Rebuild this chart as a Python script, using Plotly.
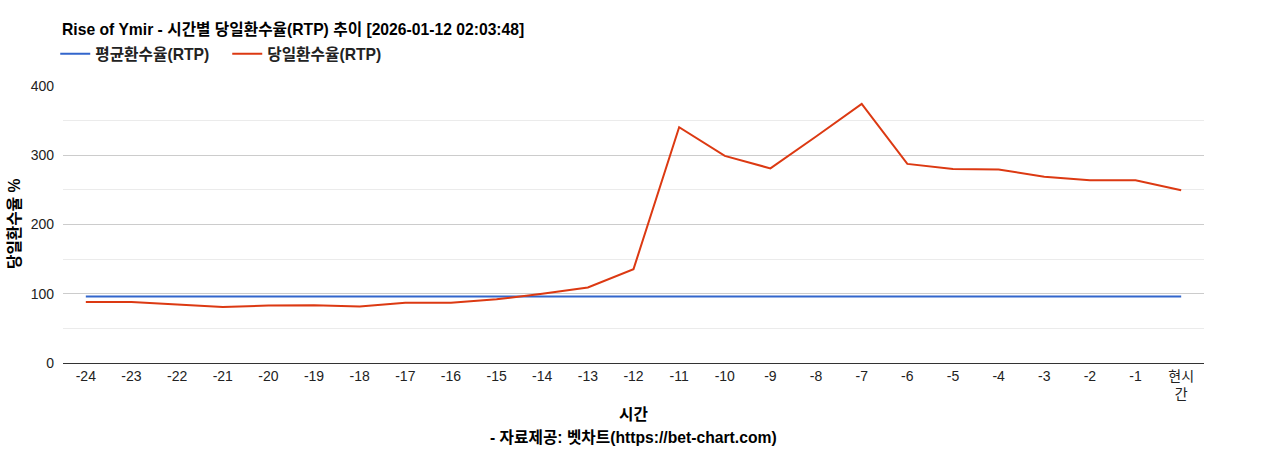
import plotly.graph_objects as go

# hours relative to now, last one is "now"
hours = ["-24", "-23", "-22", "-21", "-20", "-19", "-18", "-17", "-16", "-15", "-14", "-13",
         "-12", "-11", "-10", "-9", "-8", "-7", "-6", "-5", "-4", "-3", "-2", "-1", "현시간"]
hour_ticks = ["-24", "-23", "-22", "-21", "-20", "-19", "-18", "-17", "-16", "-15", "-14", "-13",
              "-12", "-11", "-10", "-9", "-8", "-7", "-6", "-5", "-4", "-3", "-2", "-1", "현시<br>간"]

avg_rtp = [96, 96, 96, 96, 96, 96, 96, 96, 96, 96, 96, 96,
           96, 96, 96, 96, 96, 96, 96, 96, 96, 96, 96, 96, 96]
today_rtp = [88, 88, 84.5, 81, 83, 83.5, 81.5, 87, 87, 92, 100, 109,
             135.5, 340.5, 299, 281, 327, 374, 287.5, 280, 279.5, 269, 264, 264, 249.5]

FONT = "Liberation Sans, Arial, Noto Sans CJK KR, sans-serif"
BOLD_SIZE = 15.7

fig = go.Figure()
fig.add_trace(go.Scatter(x=hours, y=avg_rtp, mode="lines", name="평균환수율(RTP)",
                         line=dict(color="#3366cc", width=2)))
fig.add_trace(go.Scatter(x=hours, y=today_rtp, mode="lines", name="당일환수율(RTP)",
                         line=dict(color="#dc3912", width=2)))

fig.update_layout(
    width=1268, height=450,
    margin=dict(l=63, r=64, t=86, b=87),
    paper_bgcolor="white", plot_bgcolor="white",
    font=dict(family=FONT, size=14, color="#222"),
    title=dict(text="<b>Rise of Ymir - 시간별 당일환수율(RTP) 추이 [2026-01-12 02:03:48]</b>",
               x=62 / 1268, xanchor="left", xref="container",
               y=1 - 30 / 450, yanchor="middle", yref="container",
               font=dict(size=BOLD_SIZE, color="#000")),
    legend=dict(orientation="h", x=-0.0068, xanchor="left", y=(363 - 54) / 277, yanchor="middle",
                font=dict(size=BOLD_SIZE, color="#222", weight="bold"), bgcolor="rgba(0,0,0,0)",
                itemwidth=30, tracegroupgap=0, entrywidth=127),
    showlegend=True,
    hovermode=False,
)

fig.update_xaxes(
    type="category", tickvals=hours, ticktext=hour_ticks,
    range=[-0.5, 24.5], showgrid=False, showline=True, linecolor="#333", linewidth=1,
    ticks="", tickfont=dict(size=14, color="#222"),
)
fig.update_yaxes(
    range=[0, 400], tickvals=[0, 100, 200, 300, 400], showgrid=True, gridcolor="#cccccc",
    zeroline=False, ticks="", tickfont=dict(size=14, color="#222"), ticklabelstandoff=8,
    minor=dict(dtick=50, showgrid=True, gridcolor="#ebebeb", tick0=0),
)

fig.add_annotation(text="<b>시간</b>", xref="paper", yref="paper", x=0.5, y=(363 - 414) / 277,
                   showarrow=False, font=dict(size=BOLD_SIZE, color="#000"), yanchor="middle")
fig.add_annotation(text="<b>- 자료제공: 벳차트(https://bet-chart.com)</b>", xref="paper", yref="paper",
                   x=0.5, y=(363 - 437) / 277, showarrow=False, font=dict(size=BOLD_SIZE, color="#000"),
                   yanchor="middle")
fig.add_annotation(text="<b>당일환수율 %</b>", xref="paper", yref="paper", x=(14 - 63) / 1141, y=(363 - 224) / 277,
                   textangle=-90, showarrow=False, font=dict(size=BOLD_SIZE, color="#000"),
                   xanchor="center", yanchor="middle")

# page body has an 8px default margin; drop it so the figure sits at the window corner
fig.write_html("out.html", config={"displayModeBar": False},
               post_script="document.body.style.margin='0';")
